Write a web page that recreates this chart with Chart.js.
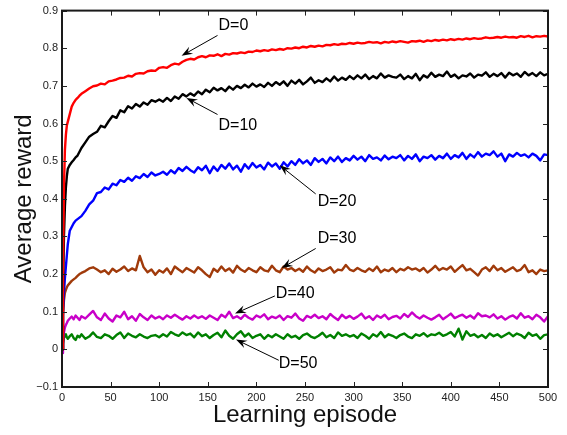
<!DOCTYPE html>
<html><head><meta charset="utf-8">
<script src="https://cdn.jsdelivr.net/npm/chart.js@4.4.1/dist/chart.umd.min.js"></script>
<style>html,body{margin:0;padding:0;background:#fff}</style>
</head><body>
<canvas id="c" width="567" height="435"></canvas>
<script>
// Episodes: dense at the start, then every 4 episodes
const earlyEpisodes = [0,1,2,3,4,5,6,8,10,12,14,16,18,20];
const episodes = earlyEpisodes.slice();
for (let e = 24; e <= 500; e += 4) episodes.push(e);

const seriesLabels = ['D=0','D=10','D=20','D=30','D=40','D=50'];

const rewardD0 = [0.00,0.22,0.43,0.53,0.57,0.595,0.605,0.625,0.645,0.655,0.663,0.668,0.674,0.679,
0.686,0.693,0.699,0.701,0.706,0.704,0.712,0.714,0.717,0.721,
0.722,0.727,0.725,0.732,0.734,0.733,0.739,0.741,0.740,0.748,
0.750,0.748,0.755,0.759,0.757,0.764,0.769,0.772,0.770,0.776,
0.779,0.776,0.781,0.780,0.784,0.779,0.785,0.783,0.787,0.786,
0.789,0.787,0.791,0.790,0.794,0.792,0.795,0.793,0.797,0.795,
0.798,0.796,0.800,0.799,0.802,0.800,0.804,0.802,0.806,0.804,
0.807,0.805,0.809,0.808,0.811,0.809,0.812,0.811,0.814,0.812,
0.815,0.813,0.814,0.817,0.815,0.816,0.813,0.817,0.815,0.818,
0.816,0.819,0.817,0.815,0.819,0.818,0.820,0.817,0.821,0.819,
0.822,0.820,0.823,0.821,0.824,0.822,0.825,0.823,0.826,0.824,
0.827,0.825,0.826,0.829,0.827,0.828,0.830,0.828,0.831,0.829,
0.830,0.828,0.832,0.830,0.833,0.829,0.832,0.831,0.833,0.831];

const rewardD10 = [0.00,0.15,0.30,0.38,0.43,0.46,0.48,0.49,0.497,0.503,0.51,0.515,0.525,0.535,
0.55,0.565,0.572,0.578,0.594,0.59,0.606,0.62,0.615,0.635,
0.63,0.646,0.64,0.652,0.645,0.656,0.65,0.662,0.658,0.664,
0.658,0.668,0.66,0.672,0.666,0.678,0.672,0.68,0.674,0.685,
0.678,0.69,0.683,0.695,0.688,0.694,0.686,0.698,0.69,0.70,
0.694,0.703,0.696,0.706,0.698,0.704,0.697,0.708,0.70,0.71,
0.703,0.712,0.70,0.714,0.706,0.716,0.704,0.712,0.722,0.708,
0.715,0.71,0.72,0.712,0.725,0.714,0.722,0.716,0.726,0.718,
0.728,0.72,0.73,0.718,0.726,0.72,0.733,0.722,0.728,0.724,
0.722,0.73,0.718,0.726,0.72,0.732,0.715,0.728,0.722,0.735,
0.724,0.73,0.726,0.738,0.724,0.73,0.72,0.728,0.725,0.733,
0.722,0.73,0.727,0.736,0.724,0.732,0.726,0.734,0.722,0.735,
0.728,0.733,0.724,0.737,0.728,0.734,0.726,0.736,0.728,0.732];

const rewardD20 = [0.00,0.10,0.15,0.19,0.22,0.25,0.28,0.315,0.325,0.335,0.342,0.346,0.35,0.354,
0.368,0.385,0.395,0.415,0.418,0.43,0.425,0.44,0.436,0.45,
0.445,0.456,0.448,0.46,0.455,0.466,0.458,0.47,0.462,0.466,
0.472,0.464,0.476,0.468,0.482,0.474,0.485,0.476,0.47,0.484,
0.476,0.488,0.468,0.486,0.474,0.49,0.48,0.494,0.478,0.488,
0.472,0.492,0.48,0.495,0.483,0.49,0.478,0.496,0.486,0.494,
0.48,0.497,0.486,0.50,0.49,0.505,0.494,0.502,0.49,0.508,
0.498,0.506,0.494,0.51,0.50,0.512,0.498,0.508,0.502,0.514,
0.504,0.512,0.50,0.516,0.506,0.51,0.502,0.515,0.505,0.512,
0.508,0.516,0.502,0.514,0.506,0.518,0.50,0.512,0.508,0.516,
0.504,0.514,0.508,0.52,0.506,0.516,0.51,0.522,0.506,0.518,
0.51,0.524,0.512,0.52,0.516,0.526,0.512,0.52,0.50,0.518,
0.512,0.522,0.514,0.518,0.51,0.52,0.514,0.502,0.518,0.516];

const rewardD30 = [0.00,0.09,0.13,0.15,0.158,0.165,0.17,0.176,0.182,0.186,0.19,0.195,0.20,0.203,
0.208,0.215,0.218,0.212,0.205,0.21,0.20,0.214,0.206,0.212,
0.22,0.208,0.215,0.21,0.248,0.218,0.205,0.212,0.198,0.21,
0.204,0.215,0.20,0.22,0.212,0.205,0.216,0.21,0.204,0.218,
0.21,0.20,0.192,0.214,0.206,0.22,0.208,0.215,0.204,0.222,
0.212,0.206,0.216,0.21,0.205,0.218,0.21,0.207,0.222,0.21,
0.205,0.22,0.212,0.216,0.208,0.214,0.206,0.22,0.21,0.204,
0.215,0.208,0.212,0.218,0.204,0.212,0.21,0.224,0.212,0.208,
0.216,0.21,0.206,0.215,0.208,0.22,0.205,0.212,0.208,0.216,
0.205,0.214,0.21,0.218,0.212,0.215,0.208,0.216,0.204,0.212,
0.222,0.21,0.216,0.212,0.22,0.206,0.215,0.224,0.21,0.214,
0.205,0.196,0.212,0.218,0.208,0.222,0.21,0.216,0.206,0.212,
0.218,0.208,0.212,0.224,0.205,0.21,0.20,0.212,0.208,0.21];

const rewardD40 = [-0.01,0.02,0.045,0.058,0.065,0.07,0.076,0.082,0.087,0.08,0.09,0.084,0.078,0.088,
0.082,0.092,0.102,0.085,0.078,0.095,0.082,0.074,0.09,0.085,
0.10,0.08,0.088,0.076,0.094,0.085,0.078,0.09,0.082,0.087,
0.08,0.09,0.084,0.092,0.085,0.079,0.088,0.082,0.09,0.083,
0.088,0.081,0.09,0.084,0.078,0.092,0.085,0.10,0.083,0.088,
0.081,0.092,0.084,0.079,0.09,0.085,0.093,0.08,0.087,0.083,
0.09,0.078,0.088,0.084,0.095,0.082,0.076,0.089,0.084,0.092,
0.083,0.088,0.08,0.094,0.085,0.078,0.092,0.083,0.089,0.081,
0.087,0.095,0.082,0.088,0.078,0.09,0.084,0.092,0.08,0.086,
0.089,0.082,0.094,0.086,0.098,0.088,0.082,0.09,0.084,0.079,
0.085,0.092,0.08,0.087,0.095,0.083,0.088,0.092,0.084,0.09,
0.082,0.096,0.088,0.09,0.085,0.093,0.082,0.088,0.079,0.086,
0.09,0.082,0.096,0.084,0.088,0.08,0.092,0.085,0.074,0.088];

const rewardD50 = [0.00,0.015,0.03,0.036,0.04,0.032,0.028,0.035,0.04,0.03,0.025,0.036,0.032,0.04,
0.028,0.034,0.045,0.033,0.03,0.04,0.036,0.028,0.038,0.045,
0.03,0.042,0.036,0.032,0.04,0.034,0.03,0.036,0.038,0.032,
0.04,0.034,0.046,0.04,0.036,0.045,0.038,0.042,0.032,0.045,
0.035,0.04,0.03,0.038,0.044,0.032,0.05,0.036,0.028,0.04,
0.048,0.034,0.042,0.03,0.036,0.04,0.028,0.038,0.032,0.04,
0.034,0.028,0.04,0.032,0.036,0.028,0.038,0.042,0.034,0.03,
0.036,0.044,0.032,0.038,0.03,0.045,0.036,0.04,0.034,0.038,
0.03,0.042,0.036,0.028,0.04,0.034,0.046,0.032,0.04,0.036,
0.03,0.038,0.042,0.034,0.03,0.04,0.036,0.043,0.034,0.04,
0.038,0.044,0.036,0.04,0.046,0.034,0.055,0.026,0.048,0.036,
0.04,0.032,0.038,0.03,0.042,0.035,0.04,0.032,0.038,0.044,
0.035,0.042,0.038,0.03,0.044,0.036,0.04,0.028,0.038,0.04];

const xTicks = [0,50,100,150,200,250,300,350,400,450,500];
const yTicks = [-0.1,0,0.1,0.2,0.3,0.4,0.5,0.6,0.7,0.8,0.9];

const seriesValues = [rewardD0,rewardD10,rewardD20,rewardD30,rewardD40,rewardD50];
const seriesColors = ['#ff0000','#000000','#0000ff','#a03a0a','#c800c8','#008000'];

// Annotation callouts (in data coordinates): label, text anchor, arrow tail, arrow tip
const callouts = [
  {text:'D=0',  tx:161, ty:0.861, x0:160, y0:0.834, x1:123, y1:0.780},
  {text:'D=10', tx:161, ty:0.595, x0:160, y0:0.624, x1:128, y1:0.668},
  {text:'D=20', tx:263, ty:0.392, x0:261, y0:0.413, x1:224, y1:0.489},
  {text:'D=30', tx:263, ty:0.295, x0:261, y0:0.268, x1:226, y1:0.216},
  {text:'D=40', tx:220, ty:0.147, x0:219, y0:0.142, x1:178, y1:0.095},
  {text:'D=50', tx:223, ty:-0.037, x0:223, y0:-0.029, x1:179, y1:0.026}
];

const datasets = seriesLabels.map((lab, i) => ({
  label: lab,
  data: episodes.map((e, k) => ({x: e, y: seriesValues[i][k]})),
  borderColor: seriesColors[i],
  backgroundColor: seriesColors[i],
  borderWidth: 2.4,
  borderJoinStyle: 'round',
  pointRadius: 0,
  tension: 0,
  fill: false
}));

const FONT = "'Liberation Sans', Arial, Helvetica, sans-serif";

const framePlugin = {
  id: 'frame',
  afterDatasetsDraw(chart) {
    const {ctx, chartArea: a, scales: {x, y}} = chart;
    ctx.save();
    // inward ticks
    ctx.strokeStyle = '#222';
    ctx.lineWidth = 1;
    ctx.beginPath();
    xTicks.forEach(v => {
      const px = Math.round(x.getPixelForValue(v)) + 0.5;
      ctx.moveTo(px, a.bottom); ctx.lineTo(px, a.bottom - 5);
      ctx.moveTo(px, a.top); ctx.lineTo(px, a.top + 5);
    });
    yTicks.forEach(v => {
      const py = Math.round(y.getPixelForValue(v)) + 0.5;
      ctx.moveTo(a.left, py); ctx.lineTo(a.left + 5, py);
      ctx.moveTo(a.right, py); ctx.lineTo(a.right - 5, py);
    });
    ctx.stroke();
    // box
    ctx.lineWidth = 2;
    ctx.strokeStyle = '#1a1a1a';
    ctx.strokeRect(a.left, a.top, a.right - a.left, a.bottom - a.top);

    // callouts
    ctx.fillStyle = '#000';
    ctx.strokeStyle = '#000';
    ctx.font = '16px ' + FONT;
    ctx.textAlign = 'left';
    ctx.textBaseline = 'middle';
    callouts.forEach(c => {
      ctx.fillText(c.text, x.getPixelForValue(c.tx), y.getPixelForValue(c.ty));
      const x0 = x.getPixelForValue(c.x0), y0 = y.getPixelForValue(c.y0);
      const x1 = x.getPixelForValue(c.x1), y1 = y.getPixelForValue(c.y1);
      const ang = Math.atan2(y1 - y0, x1 - x0);
      const L = 11, W = 4;
      ctx.lineWidth = 1;
      ctx.beginPath();
      ctx.moveTo(x0, y0);
      ctx.lineTo(x1 - Math.cos(ang) * 6, y1 - Math.sin(ang) * 6);
      ctx.stroke();
      const bx = x1 - Math.cos(ang) * L, by = y1 - Math.sin(ang) * L;
      const nx = -Math.sin(ang), ny = Math.cos(ang);
      const mx = x1 - Math.cos(ang) * (L - 4), my = y1 - Math.sin(ang) * (L - 4);
      ctx.beginPath();
      ctx.moveTo(x1, y1);
      ctx.lineTo(bx + nx * W, by + ny * W);
      ctx.lineTo(mx, my);
      ctx.lineTo(bx - nx * W, by - ny * W);
      ctx.closePath();
      ctx.fill();
    });
    ctx.restore();
  }
};

new Chart(document.getElementById('c'), {
  type: 'line',
  data: {datasets},
  options: {
    responsive: false,
    animation: false,
    devicePixelRatio: 1,
    layout: {padding: {top: 7, right: 19, left: 0, bottom: 0}},
    plugins: {legend: {display: false}, tooltip: {enabled: false}},
    scales: {
      x: {
        type: 'linear', min: 0, max: 500,
        afterBuildTicks: s => { s.ticks = xTicks.map(v => ({value: v})); },
        grid: {display: false, drawTicks: false},
        border: {display: false},
        ticks: {color: '#222', font: {size: 11, family: FONT}, padding: 4, maxRotation: 0, autoSkip: false},
        title: {display: true, text: 'Learning episode', color: '#111', font: {size: 24, family: FONT}, padding: {top: 0, bottom: 5}},
        afterFit: s => { s.height = 48; }
      },
      y: {
        type: 'linear', min: -0.1, max: 0.9,
        afterBuildTicks: s => { s.ticks = yTicks.map(v => ({value: v})); },
        grid: {display: false, drawTicks: false},
        border: {display: false},
        ticks: {color: '#222', font: {size: 11, family: FONT}, padding: 4, autoSkip: false,
          callback: v => { const r = Math.round(v * 10) / 10; return r < 0 ? '\u2212' + Math.abs(r) : String(r); }},
        title: {display: true, text: 'Average reward', color: '#111', font: {size: 24, family: FONT}, padding: {top: 10, bottom: 0}},
        afterFit: s => { s.width = 62; }
      }
    }
  },
  plugins: [framePlugin]
});
</script>
</body></html>
